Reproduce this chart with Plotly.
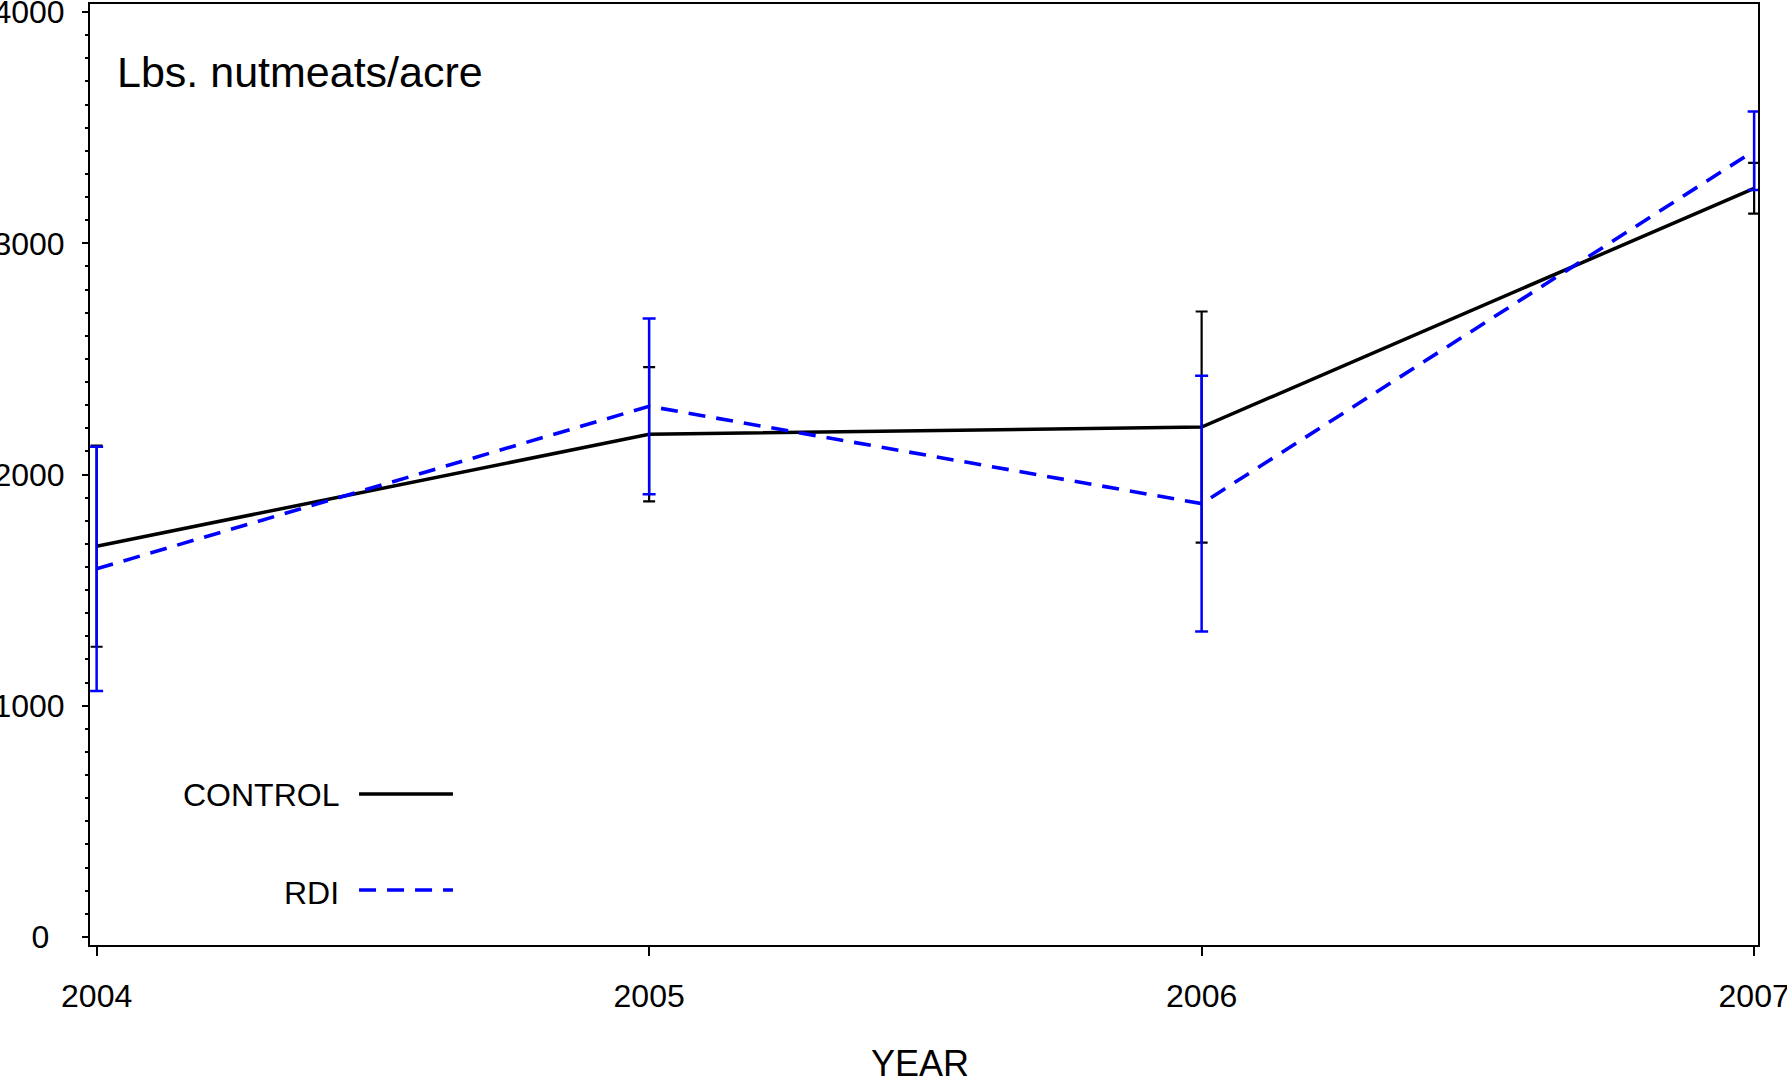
import plotly.graph_objects as go

years = [2004, 2005, 2006, 2007]
control_mean = [1690, 2174, 2205, 3238]
control_err = [435, 290, 500, 110]
rdi_mean = [1592, 2295, 1874, 3400]
rdi_err = [528, 380, 553, 170]
y_ticks = [0, 1000, 2000, 3000, 4000]
y_tick_labels = ["0\u00a0\u2009", "1000", "2000", "3000", "4000"]

FONT = "Arial, Liberation Sans, sans-serif"

fig = go.Figure()
fig.add_trace(go.Scatter(
    x=years, y=control_mean, mode="lines", name="CONTROL",
    line=dict(color="#000000", width=3.5),
    error_y=dict(type="data", array=control_err, color="#000000", thickness=2.2, width=6),
    showlegend=False))
fig.add_trace(go.Scatter(
    x=years, y=rdi_mean, mode="lines", name="RDI",
    line=dict(color="#0000FF", width=3.6, dash="17px,11px"),
    error_y=dict(type="data", array=rdi_err, color="#0000FF", thickness=2.5, width=6.5),
    showlegend=False))

fig.update_layout(
    width=1787, height=1080, template="none",
    paper_bgcolor="white", plot_bgcolor="white",
    margin=dict(l=90, r=29, t=4, b=135),
    font=dict(family=FONT, color="#000000"),
    xaxis=dict(range=[2003.988, 2007.007], tickvals=years, ticktext=[str(y) for y in years],
               showgrid=False, zeroline=False, showline=True, linecolor="#000", linewidth=2,
               mirror=True, ticks="outside", ticklen=9, tickwidth=2, tickcolor="#000",
               tickfont=dict(size=32, family=FONT), automargin=False, ticklabelstandoff=13,
               ticklabeloverflow="allow"),
    yaxis=dict(range=[-35, 4035], tickvals=y_ticks, ticktext=y_tick_labels,
               showgrid=False, zeroline=False, showline=True, linecolor="#000", linewidth=2,
               mirror=True, ticks="outside", ticklen=6, tickwidth=2, tickcolor="#000",
               tickfont=dict(size=32, family=FONT), automargin=False, ticklabelstandoff=11,
               ticklabeloverflow="allow",
               minor=dict(dtick=100, tick0=0, ticks="outside", ticklen=3, tickwidth=2,
                          tickcolor="#000", showgrid=False)),
)

fig.add_annotation(text="Lbs. nutmeats/acre", xref="paper", yref="paper", x=0.0152, y=0.9277,
                   xanchor="left", yanchor="middle", showarrow=False, font=dict(size=43, family=FONT))
fig.add_annotation(text="YEAR", xref="paper", yref="paper", x=0.4976, y=-0.1254,
                   xanchor="center", yanchor="middle", showarrow=False, font=dict(size=36, family=FONT))
fig.add_annotation(text="CONTROL", xref="paper", yref="paper", x=0.1502, y=0.1594,
                   xanchor="right", yanchor="middle", showarrow=False, font=dict(size=32, family=FONT))
fig.add_annotation(text="RDI", xref="paper", yref="paper", x=0.1502, y=0.0553,
                   xanchor="right", yanchor="middle", showarrow=False, font=dict(size=32, family=FONT))
fig.add_shape(type="line", xref="paper", yref="paper", x0=0.1613, x1=0.2176, y0=0.1605, y1=0.1605,
              line=dict(color="#000000", width=3.5))
fig.add_shape(type="line", xref="paper", yref="paper", x0=0.1613, x1=0.2176, y0=0.0584, y1=0.0584,
              line=dict(color="#0000FF", width=3.6, dash="17px,11px"))

fig.write_html("out.html")
